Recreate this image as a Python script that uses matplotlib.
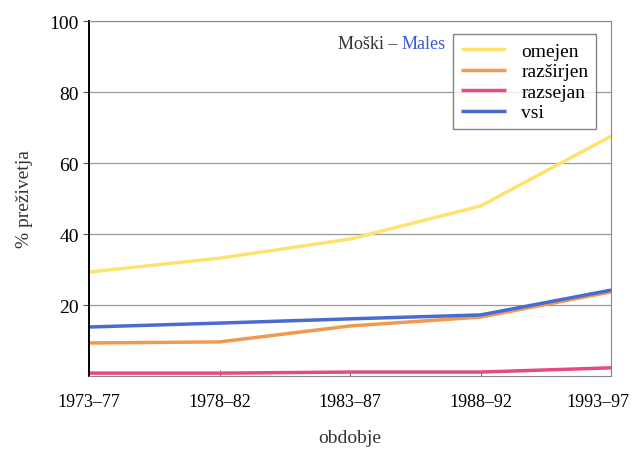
import matplotlib.pyplot as plt
import matplotlib.transforms as mtransforms
import numpy as np

plt.rcParams['font.family'] = ['Liberation Serif', 'DejaVu Serif']

periods = ['1973–77', '1978–82', '1983–87', '1988–92', '1993–97']
omejen = [29.3, 33.2, 38.6, 47.9, 67.6]
razsirjen = [9.3, 9.6, 14.1, 16.6, 23.7]
razsejan = [0.8, 0.8, 1.1, 1.1, 2.3]
vsi = [13.8, 14.9, 16.1, 17.2, 24.2]

series = [
    ('omejen', omejen, '#fde36e'),
    ('razširjen', razsirjen, '#f09a50'),
    ('razsejan', razsejan, '#e84a80'),
    ('vsi', vsi, '#4a6ad0'),
]

fig = plt.figure(figsize=(6.32, 4.52), dpi=100)
ax = fig.add_axes([0.141, 0.166, 0.826, 0.785])

x = np.arange(len(periods))
ax.set_axisbelow(True)
for lbl, vals, col in series:
    ax.plot(x, vals, color=col, lw=2.5, label=lbl, solid_capstyle='butt')

ax.set_xlim(0, len(periods) - 1)
ax.set_ylim(0, 100)
ax.set_yticks([20, 40, 60, 80, 100])
ax.set_xticks(x)
ax.set_xticklabels(periods, fontsize=13)
ax.tick_params(axis='y', labelsize=14, length=4, color='#555555')
ax.tick_params(axis='x', direction='in', length=4, pad=12, color='#777777')
ax.grid(axis='y', color='#999999', lw=0.9)

# last period label sits a bit left of its tick, flush with the figure edge
last = ax.get_xticklabels()[-1]
last.set_transform(last.get_transform() + mtransforms.ScaledTranslation(-13 / 100, 0, fig.dpi_scale_trans))

for s in ['top', 'right', 'bottom']:
    ax.spines[s].set_color('#888888')
ax.spines['left'].set_color('black')
ax.spines['left'].set_linewidth(1.4)

ax.set_ylabel('% preživetja', fontsize=14, color='#333333', labelpad=12)
ax.set_xlabel('obdobje', fontsize=14, color='#333333', labelpad=14)

t1 = ax.text(0.476, 0.925, 'Moški – ', transform=ax.transAxes, fontsize=13, ha='left', va='baseline', color='#333333')
ax.annotate('Males', xy=(1, 0), xycoords=t1, fontsize=13, ha='left', va='bottom', color='#3b5bd6')

leg = ax.legend(loc='upper right', bbox_to_anchor=(0.99, 0.99), fontsize=14, frameon=True, fancybox=False,
                handlelength=2.3, handletextpad=0.8, labelspacing=0.15, borderpad=0.4)
leg.get_frame().set_edgecolor('#666666')
leg.get_frame().set_linewidth(1.0)

fig.savefig('out.png', dpi=100)
